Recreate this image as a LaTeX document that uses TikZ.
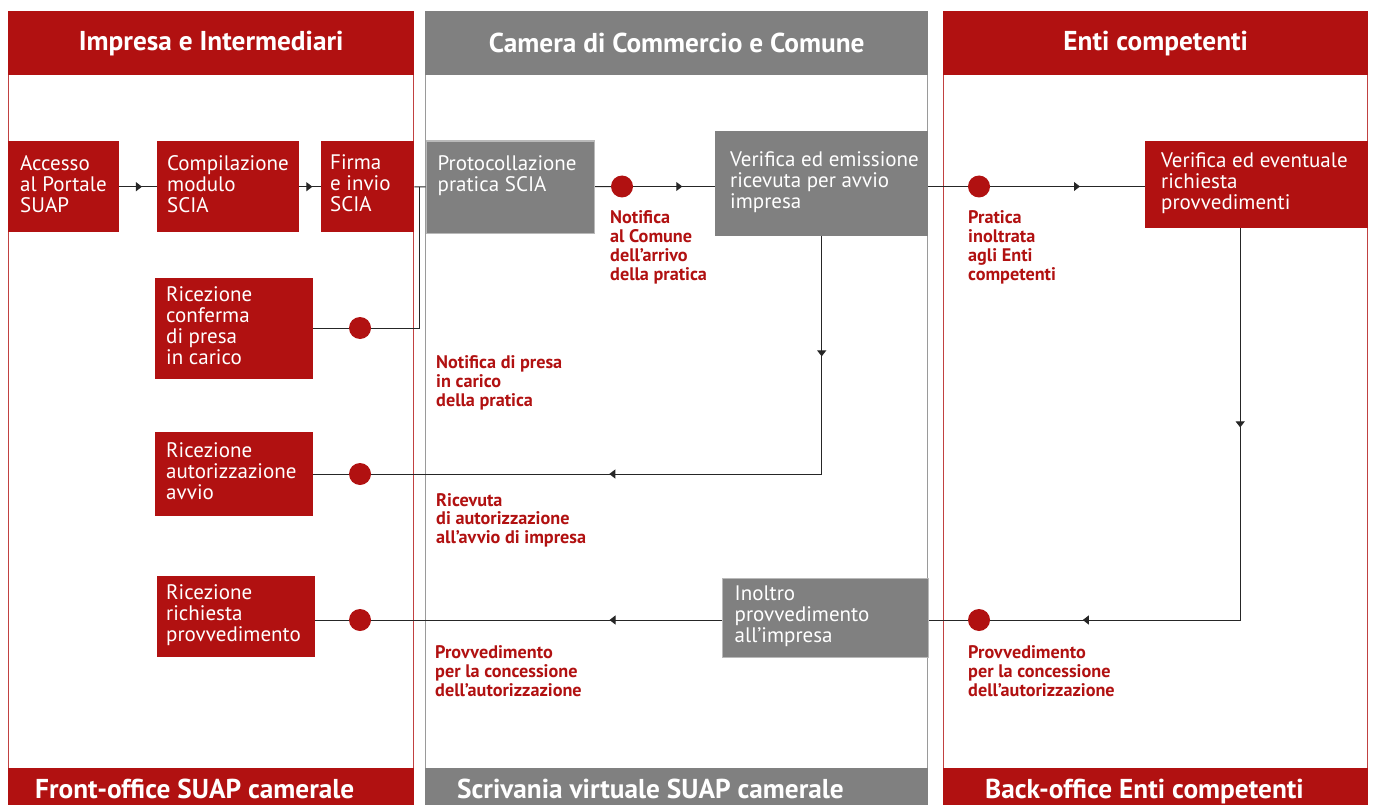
\documentclass[tikz,border=0pt]{standalone}
\usepackage{fontspec}
\setmainfont{PT Sans}
\usepackage{tikz}
\usetikzlibrary{arrows.meta}
\usetikzlibrary{calc}
\usetikzlibrary{positioning}
\usetikzlibrary{decorations.markings}

\definecolor{suaprot}{RGB}{177,17,17}
\definecolor{suapgrau}{RGB}{128,128,128}

\newcommand{\boxschrift}{\fontsize{21}{21}\selectfont}
\newcommand{\notizschrift}{\bfseries\fontsize{18.2}{18.8}\selectfont}
\newcommand{\kopfschrift}{\bfseries\fontsize{27.3}{27}\selectfont}

\tikzset{
  kopf/.style={fill=#1, text=white, font=\kopfschrift, anchor=north west, inner sep=0pt},
  kopftext/.style={anchor=base west, text=white, font=\kopfschrift, inner sep=0pt},
  schritt/.style={fill=#1, anchor=north west, inner sep=0pt},
  boxtext/.style={anchor=west, align=left, text=white, font=\boxschrift, inner xsep=#1, inner ysep=0pt,
    execute at begin node=\strut, execute at end node=\strut},
  boxtext/.default=11pt,
  notiz/.style={anchor=north west, align=left, text=suaprot, font=\notizschrift, inner sep=0pt,
    execute at begin node=\strut},
  punkt/.style={circle, fill=suaprot, minimum size=22pt, inner sep=0pt},
  fluss/.style={line width=1pt, black!85},
  pfeil/.style={postaction={decorate}, decoration={markings,
    mark=at position #1 with {\arrow{Triangle[length=6pt,width=9pt]}}}},
  pfeilzwei/.style 2 args={postaction={decorate}, decoration={markings,
    mark=at position #1 with {\arrow{Triangle[length=6pt,width=9pt]}},
    mark=at position #2 with {\arrow{Triangle[length=6pt,width=9pt]}}}},
}

\begin{document}
\begin{tikzpicture}[x=1pt, y=-1pt]
      \useasboundingbox (0,0) rectangle (1375,805);
      % Spalten
      \foreach \xa/\xb/\farbe/\nr/\titel in {8/414/suaprot/1/Impresa e Intermediari,
        425/928/suapgrau/2/Camera di Commercio e Comune, 943/1368/suaprot/3/Enti competenti}{
        \draw[\farbe!80, line width=1pt] (\xa+0.5,75) rectangle (\xb-0.5,768);
        \node[kopf=\farbe, minimum width={\xb-\xa}, minimum height=64pt] (kopf\nr) at (\xa,11) {\titel};
        \node[kopf=\farbe, minimum width={\xb-\xa}, minimum height=40pt] (fuss\nr) at (\xa,768) {};
      }
      \node[kopftext] (ft1) at (35,798) {Front-office SUAP camerale};
      \node[kopftext] (ft2) at (457,798) {Scrivania virtuale SUAP camerale};
      \node[kopftext] (ft3) at (985,798) {Back-office Enti competenti};

      % Kaesten
      \node[schritt=suaprot, minimum width=111pt, minimum height=91pt,
        label={[boxtext=12pt]west:Accesso\\al Portale\\SUAP}] (accesso) at (8,141) {};
      \node[schritt=suaprot, minimum width=142pt, minimum height=91pt,
        label={[boxtext=10pt]west:Compilazione\\modulo\\SCIA}] (compil) at (157,141) {};
      \node[schritt=suaprot, minimum width=93pt, minimum height=91pt,
        label={[boxtext=9pt]west:Firma\\e invio\\SCIA}] (firma) at (321,141) {};
      \node[schritt=suapgrau, draw=suapgrau!55, line width=1.5pt, minimum width=168pt, minimum height=92pt,
        label={[boxtext=12pt]west:Protocollazione\\pratica SCIA\\\mbox{}}] (prot) at (425.5,140.5) {};
      \node[schritt=suapgrau, minimum width=213pt, minimum height=105pt,
        label={[boxtext=15pt]west:Verifica ed emissione\\ricevuta per avvio\\impresa}] (verem) at (715,131) {};
      \node[schritt=suaprot, minimum width=223pt, minimum height=87pt,
        label={[boxtext=16pt]west:Verifica ed eventuale\\richiesta\\provvedimenti}] (vereve) at (1145,141) {};
      \node[schritt=suaprot, minimum width=158pt, minimum height=101pt,
        label={[boxtext]west:Ricezione\\conferma\\di presa\\in carico}] (ricconf) at (155,278) {};
      \node[schritt=suaprot, minimum width=158pt, minimum height=84pt,
        label={[boxtext]west:Ricezione\\autorizzazione\\avvio}] (ricaut) at (155,432) {};
      \node[schritt=suaprot, minimum width=158pt, minimum height=81pt,
        label={[boxtext=9pt]west:Ricezione\\richiesta\\provvedimento}] (ricrich) at (157,576) {};
      \node[schritt=suapgrau, draw=suapgrau!55, line width=1.5pt, minimum width=206pt, minimum height=79pt,
        label={[boxtext=13pt]west:Inoltro\\provvedimento\\all’impresa}] (inoltro) at (721.5,577.5) {};

      % Punkte
      \node[punkt] (d0) at (360,328) {};
      \node[punkt] (d1) at (622,186.5) {};
      \node[punkt] (d2) at (979,186.5) {};
      \node[punkt] (d3) at (360,474) {};
      \node[punkt] (d4) at (979,620) {};
      \node[punkt] (d5) at (360,620) {};
      \coordinate (abzw) at ($(firma.east)!0.5!(prot.west)$);
      \coordinate (abw) at ([xshift=-16.5pt]vereve.south);

      % Verbindungen
      \draw[fluss, pfeil=0.6] (accesso) -- (compil);
      \draw[fluss, pfeil=0.6] (compil) -- (firma);
      \draw[fluss] (firma) -- (prot);
      \draw[fluss] (abzw) |- (d0);
      \draw[fluss] (d0) -- (d0 -| ricconf.east);
      \draw[fluss] (prot) -- (d1);
      \draw[fluss, pfeil=0.6] (d1) -- (d1 -| verem.west);
      \draw[fluss] (verem.east |- d2) -- (d2);
      \draw[fluss, pfeil=0.58] (d2) -- (d2 -| vereve.west);
      \draw[fluss, pfeilzwei={120pt}{450pt}] (verem.south) |- (d3);
      \draw[fluss] (d3) -- (d3 -| ricaut.east);
      \draw[fluss, pfeilzwei={199pt}{549pt}] (abw) |- (d4);
      \draw[fluss] (d4) -- (d4 -| inoltro.east);
      \draw[fluss, pfeil=112pt] (inoltro.west |- d5) -- (d5);
      \draw[fluss] (d5) -- (d5 -| ricrich.east);

      % Meldungen
      \node[notiz] (n1) at (610,210.6) {Notifica\\al Comune\\dell’arrivo\\della pratica};
      \node[notiz] (n2) at (436,355.4) {Notifica di presa\\in carico\\della pratica};
      \node[notiz] (n3) at (968,210.6) {Pratica\\inoltrata\\agli Enti\\competenti};
      \node[notiz] (n4) at (436,493) {Ricevuta\\di autorizzazione\\all’avvio di impresa};
      \node[notiz] (n5) at (435,645.5) {Provvedimento\\per la concessione\\dell’autorizzazione};
      \node[notiz] (n6) at (968,645.5) {Provvedimento\\per la concessione\\dell’autorizzazione};
\end{tikzpicture}
\end{document}
